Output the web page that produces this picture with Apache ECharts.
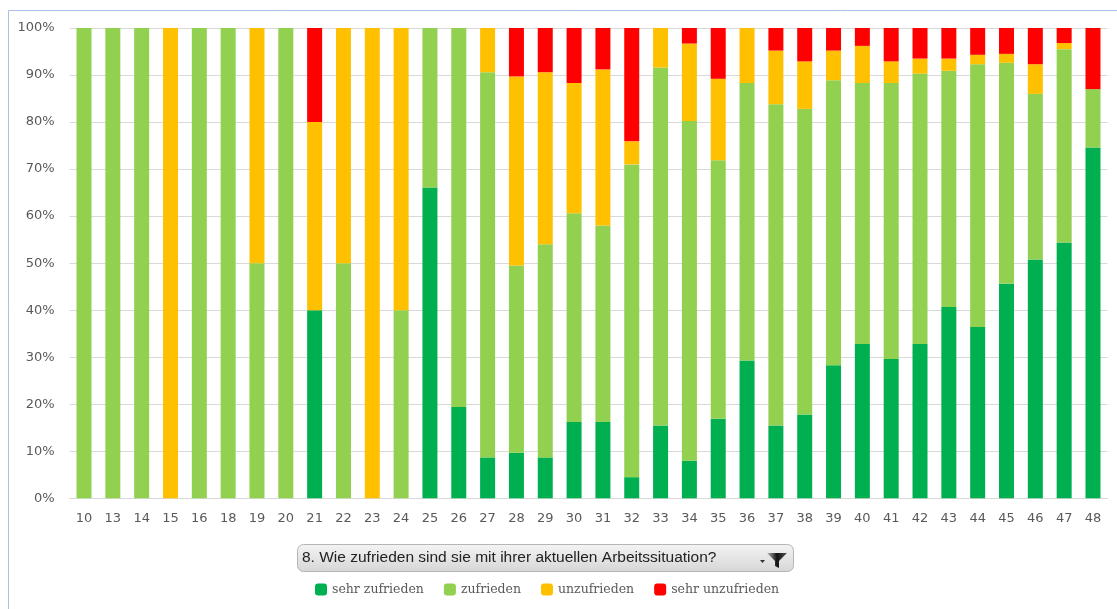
<!DOCTYPE html>
<html>
<head>
<meta charset="utf-8">
<script src="https://cdn.jsdelivr.net/npm/echarts@6/dist/echarts.min.js"></script>
<style>
html,body{margin:0;padding:0;background:#fff;}
#chart{width:1117px;height:609px;}
</style>
</head>
<body>
<div id="chart"></div>
<script>
const categories = ['10','13','14','15','16','18','19','20','21','22','23','24','25','26','27','28','29','30','31','32','33','34','35','36','37','38','39','40','41','42','43','44','45','46','47','48'];
const sehrZufrieden = [0,0,0,0,0,0,0,0,40,0,0,0,66.1,19.4,8.7,9.7,8.7,16.2,16.2,4.5,15.5,8.0,16.9,29.3,15.5,17.8,28.3,32.8,29.6,32.8,40.7,36.4,45.6,50.8,54.4,74.6];
const zufrieden = [100,100,100,0,100,100,50,100,0,50,0,40,33.9,80.6,81.9,39.8,45.3,44.4,41.8,66.5,76.1,72.2,55.0,59.0,68.3,65.0,60.6,55.5,58.7,57.5,50.2,55.9,47.0,35.2,41.1,12.4];
const unzufrieden = [0,0,0,100,0,0,50,0,40,50,100,60,0,0,9.4,40.2,36.6,27.7,33.2,4.9,8.4,16.5,17.3,11.7,11.4,10.1,6.3,7.9,4.6,3.2,2.6,2.0,1.9,6.3,1.3,0];
const sehrUnzufrieden = [0,0,0,0,0,0,0,0,20,0,0,0,0,0,0,10.3,9.4,11.7,8.8,24.1,0,3.3,10.8,0,4.8,7.1,4.8,3.8,7.1,6.5,6.5,5.7,5.5,7.7,3.2,13.0];
const seriesNames = ['sehr zufrieden','zufrieden','unzufrieden','sehr unzufrieden'];
const colors = ['#00B050','#92D050','#FFC000','#FF0000'];
const buttonTitle = '8. Wie zufrieden sind sie mit ihrer aktuellen Arbeitssituation?';

const chart = echarts.init(document.getElementById('chart'), null, {renderer:'canvas'});
const dataSets = [sehrZufrieden, zufrieden, unzufrieden, sehrUnzufrieden];
const option = {
  animation:false,
  backgroundColor:'#fff',
  grid:{left:69.6, right:9.6, top:28, bottom:110.7, containLabel:false},
  legend:{
    data:seriesNames,
    left:310, top:578,
    icon:'roundRect',
    itemWidth:12, itemHeight:12, itemGap:20,
    textStyle:{fontFamily:'DejaVu Serif', fontSize:12.5, color:'#595959'},
    selectedMode:false
  },
  xAxis:{
    type:'category', data:categories,
    axisLine:{lineStyle:{color:'#d9d9d9', width:1}},
    axisTick:{show:false},
    axisLabel:{fontFamily:'DejaVu Sans', fontSize:13, color:'#595959', margin:14, interval:0}
  },
  yAxis:{
    type:'value', min:0, max:100, interval:10,
    axisLine:{show:false}, axisTick:{show:false},
    splitLine:{lineStyle:{color:'#d9d9d9', width:1}},
    axisLabel:{formatter:'{value}%', fontFamily:'DejaVu Sans', fontSize:13, color:'#595959', margin:15}
  },
  series: seriesNames.map((n,i)=>({
    name:n, type:'bar', stack:'total', barWidth:15,
    itemStyle:{color:colors[i]},
    data:dataSets[i]
  })),
  graphic:[
    {type:'rect', shape:{x:8.5,y:10.5,width:1200,height:700}, style:{fill:'none', stroke:'#a9c1ea', lineWidth:1}, silent:true, z:-1},
    {type:'rect', shape:{x:297.5,y:544.5,width:496,height:27,r:6},
      style:{fill:new echarts.graphic.LinearGradient(0,0,0,1,[{offset:0,color:'#f4f4f4'},{offset:1,color:'#d6d6d6'}]), stroke:'#b5b5b5', lineWidth:1}},
    {type:'text', left:302, top:550, style:{text:buttonTitle, fontFamily:'Liberation Sans', fontSize:15.5, fill:'#222'}},
    {type:'polygon', shape:{points:[[760,560],[765,560],[762.5,563]]}, style:{fill:'#333'}},
    {type:'polygon', shape:{points:[[767,553],[787,553],[779,561],[779,568],[775,566],[775,561]]},
      style:{fill:new echarts.graphic.LinearGradient(0,0,1,0,[{offset:0,color:'#bbb'},{offset:0.5,color:'#111'},{offset:1,color:'#555'}])}}
  ]
};
chart.setOption(option);
</script>
</body>
</html>
